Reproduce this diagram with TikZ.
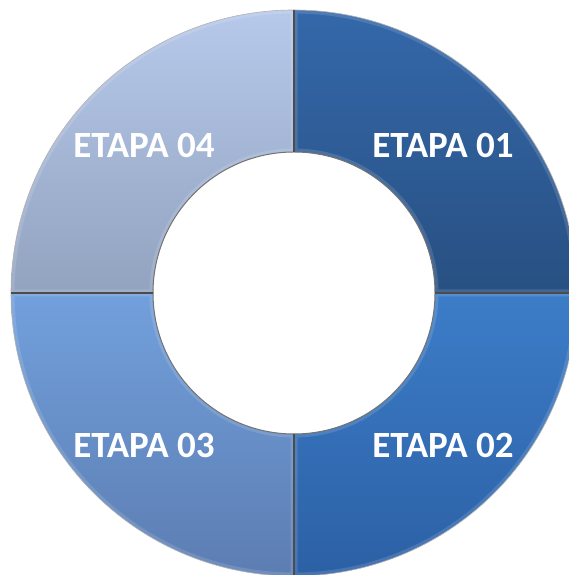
\documentclass[tikz,border=0pt]{standalone}
\usepackage{fontspec}
\setmainfont{Carlito}
\begin{document}
\begin{tikzpicture}[x=1pt,y=1pt,
  lbl/.style={text=white,font=\bfseries\fontsize{37}{37}\selectfont,inner sep=0pt},
  seam/.style={draw=black!70,line width=1.2pt},
  bevel/.style={draw=white,opacity=0.13,line width=7pt}]
\useasboundingbox (0,0) rectangle (568,575);
\fill[white] (0,0) rectangle (568,575);
\def\R{283}\def\r{141}
\newcommand{\sectorpath}[2]{[shift={(294,282)}] (#1:\R) arc[start angle=#1,end angle=#2,radius=\R] -- (#2:\r) arc[start angle=#2,end angle=#1,radius=\r] -- cycle}
% Q1 top right
\shade[top color={rgb,255:red,52;green,104;blue,170},bottom color={rgb,255:red,40;green,80;blue,130}] \sectorpath{0}{90};
\begin{scope}\clip \sectorpath{0}{90}; \path[bevel] \sectorpath{0}{90}; \end{scope}
% Q2 bottom right
\shade[top color={rgb,255:red,60;green,125;blue,200},bottom color={rgb,255:red,44;green,96;blue,165}] \sectorpath{270}{360};
\begin{scope}\clip \sectorpath{270}{360}; \path[bevel] \sectorpath{270}{360}; \end{scope}
% Q3 bottom left
\shade[top color={rgb,255:red,114;green,160;blue,220},bottom color={rgb,255:red,92;green,125;blue,178}] \sectorpath{180}{270};
\begin{scope}\clip \sectorpath{180}{270}; \path[bevel] \sectorpath{180}{270}; \end{scope}
% Q4 top left
\shade[top color={rgb,255:red,183;green,201;blue,234},bottom color={rgb,255:red,146;green,163;blue,192}] \sectorpath{90}{180};
\begin{scope}\clip \sectorpath{90}{180}; \path[bevel] \sectorpath{90}{180}; \end{scope}
% outlines
\draw[black!30,line width=0.6pt,shift={(294,282)}] (0,0) circle[radius=\R];
\draw[black!55,line width=1pt,shift={(294,282)}] (0,0) circle[radius=\r];
\coordinate (ct) at (294,423);
\coordinate (cto) at (294,565);
\coordinate (cb) at (294,141);
\coordinate (cbo) at (294,-1);
\coordinate (cl) at (153,282);
\coordinate (clo) at (11,282);
\coordinate (cr) at (435,282);
\coordinate (cro) at (577,282);
\draw[seam] (ct) -- (cto);
\draw[seam] (cb) -- (cbo);
\draw[seam] (cl) -- (clo);
\draw[seam] (cr) -- (cro);
\node[lbl] (e1) at (443,429) {ETAPA 01};
\node[lbl] (e2) at (443,130) {ETAPA 02};
\node[lbl] (e3) at (144,130) {ETAPA 03};
\node[lbl] (e4) at (144,429) {ETAPA 04};
\end{tikzpicture}
\end{document}
